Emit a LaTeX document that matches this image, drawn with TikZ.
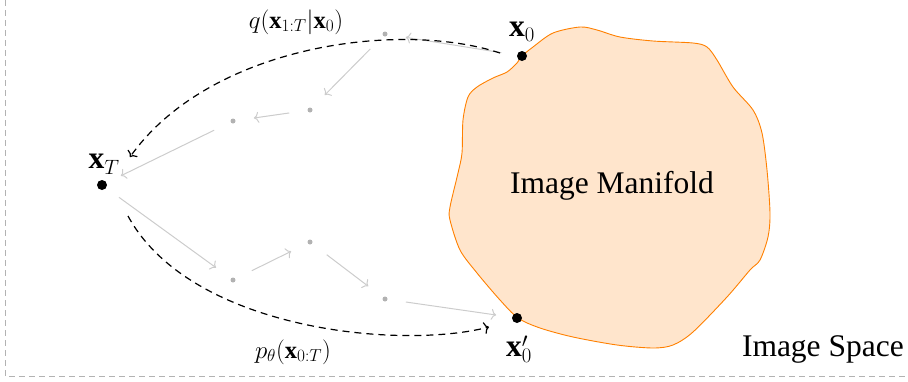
\documentclass[tikz,border=0pt]{standalone}
\usepackage{fontspec}
\setmainfont{Liberation Serif}
\usetikzlibrary{arrows.meta}
\begin{document}
\begin{tikzpicture}[x=1pt,y=-1pt,
  bigdot/.style={circle,fill=black,inner sep=0pt,minimum size=10pt},
  smalldot/.style={circle,fill=gray!60,inner sep=0pt,minimum size=5pt},
  chain/.style={draw=gray!40,line width=1pt,-{To[length=5pt,width=11pt]},shorten >=21pt,shorten <=21pt},
  proc/.style={draw=black,line width=1.2pt,dash pattern=on 7pt off 5pt,-{To[length=5pt,width=12pt]}},
  biglabel/.style={font=\fontsize{31.5}{36}\selectfont,inner sep=0pt},
  smalllabel/.style={font=\fontsize{24.5}{28}\selectfont,inner sep=0pt},
  manifold/.style={draw=orange,fill=orange!20,line width=0.9pt}]
\useasboundingbox (0,0) rectangle (908,381);
\begin{scope}
\clip (0,0) rectangle (908,381);
\draw[gray!60,line width=1pt,dash pattern=on 6pt off 4pt] (5,-20) -- (5,376) -- (930,376);
\end{scope}
% manifold
\draw[manifold] plot[smooth cycle,tension=0.5] coordinates {
 (522,56) (533,47) (553,33) (580,27) (597,30) (620,37) (653,41) (693,43) (707,47)
 (717,60) (733,87) (753,110) (762,133) (767,170) (770,213) (768,237) (760,260)
 (750,270) (727,297) (693,332) (673,345) (653,348) (617,345) (573,337) (540,328)
 (518,318) (500,300) (477,273) (460,250) (450,220) (450,207) (458,173) (462,153)
 (463,120) (468,97) (477,87) (493,78) (507,72) (517,63)};
\node[font=\fontsize{31.5}{36}\selectfont] (mlab) at (612,186) {Image Manifold};
\node[font=\fontsize{31.5}{36}\selectfont,anchor=east,inner sep=0pt] (slab) at (904,349) {Image Space};
% points
\node[bigdot] (x0) at (522,56) {};
\node[bigdot] (xT) at (102,185) {};
\node[bigdot] (x0p) at (517,318) {};
\node[biglabel] (lx0) at (522,32) {$\mathbf{x}_0$};
\node[biglabel] (lxT) at (104,164) {$\mathbf{x}_T$};
\node[biglabel] (lx0p) at (519,349) {$\mathbf{x}_0'$};
\node[smalldot] (g1) at (385,34) {};
\node[smalldot] (g2) at (310,110) {};
\node[smalldot] (g3) at (233,121) {};
\node[smalldot] (g4) at (233,280) {};
\node[smalldot] (g5) at (310,242) {};
\node[smalldot] (g6) at (385,299) {};
% chain arrows
\draw[chain] (x0.center) -- (g1.center);
\draw[chain] (g1.center) -- (g2.center);
\draw[chain] (g2.center) -- (g3.center);
\draw[chain] (g3.center) -- (xT.center);
\draw[chain] (xT.center) -- (g4.center);
\draw[chain] (g4.center) -- (g5.center);
\draw[chain] (g5.center) -- (g6.center);
\draw[chain] (g6.center) -- (x0p.center);
% dashed process arrows
\coordinate (qs) at (500,53);
\coordinate (qe) at (130,157);
\coordinate (ps) at (128,216);
\coordinate (pe) at (489,327);
\draw[proc] (qs) .. controls (400,20) and (210,45) .. (qe);
\draw[proc] (ps) .. controls (190,330) and (400,350) .. (pe);
\node[smalllabel] (ql) at (296,22) {$q(\mathbf{x}_{1:T}|\mathbf{x}_0)$};
\node[smalllabel] (pl) at (293,352) {$p_\theta(\mathbf{x}_{0:T})$};
\end{tikzpicture}
\end{document}
